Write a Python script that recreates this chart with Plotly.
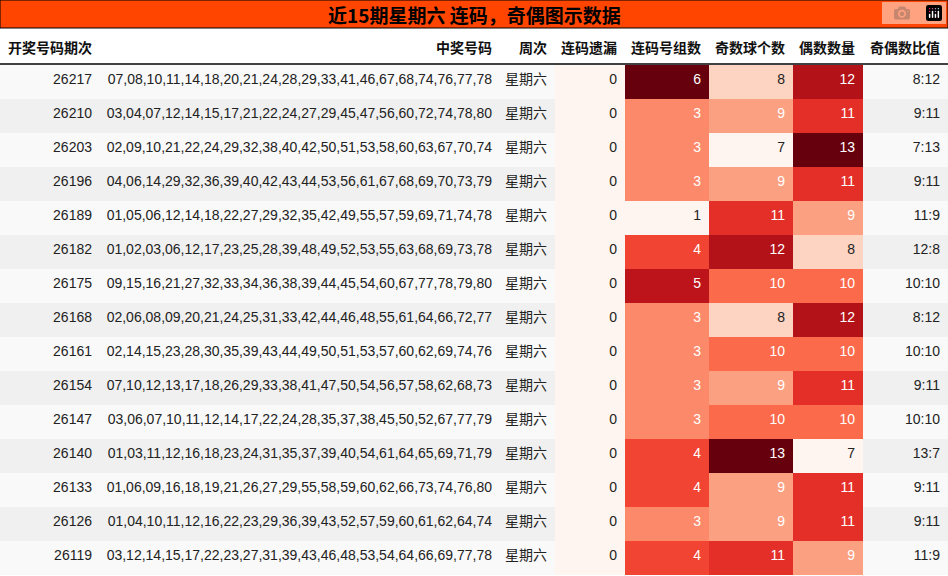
import plotly.graph_objects as go
from plotly.colors import sample_colorscale

periods = [26217,26210,26203,26196,26189,26182,26175,26168,26161,26154,26147,26140,26133,26126,26119]
numbers = [
"07,08,10,11,14,18,20,21,24,28,29,33,41,46,67,68,74,76,77,78",
"03,04,07,12,14,15,17,21,22,24,27,29,45,47,56,60,72,74,78,80",
"02,09,10,21,22,24,29,32,38,40,42,50,51,53,58,60,63,67,70,74",
"04,06,14,29,32,36,39,40,42,43,44,53,56,61,67,68,69,70,73,79",
"01,05,06,12,14,18,22,27,29,32,35,42,49,55,57,59,69,71,74,78",
"01,02,03,06,12,17,23,25,28,39,48,49,52,53,55,63,68,69,73,78",
"09,15,16,21,27,32,33,34,36,38,39,44,45,54,60,67,77,78,79,80",
"02,06,08,09,20,21,24,25,31,33,42,44,46,48,55,61,64,66,72,77",
"02,14,15,23,28,30,35,39,43,44,49,50,51,53,57,60,62,69,74,76",
"07,10,12,13,17,18,26,29,33,38,41,47,50,54,56,57,58,62,68,73",
"03,06,07,10,11,12,14,17,22,24,28,35,37,38,45,50,52,67,77,79",
"01,03,11,12,16,18,23,24,31,35,37,39,40,54,61,64,65,69,71,79",
"01,06,09,16,18,19,21,26,27,29,55,58,59,60,62,66,73,74,76,80",
"01,04,10,11,12,16,22,23,29,36,39,43,52,57,59,60,61,62,64,74",
"03,12,14,15,17,22,23,27,31,39,43,46,48,53,54,64,66,69,77,78",
]
weekday = ["星期六"]*15
miss = [0]*15
groups = [6,3,3,3,1,4,5,3,3,3,3,4,4,3,4]
odd = [8,9,7,9,11,12,10,8,10,9,10,13,9,9,11]
even = [12,11,13,11,9,8,10,12,10,11,10,7,11,11,9]
ratio = [f"{o}:{e}" for o, e in zip(odd, even)]
headers = ["开奖号码期次","中奖号码","周次","连码遗漏","连码号组数","奇数球个数","偶数数量","奇偶数比值"]

def colorize(vals):
    lo, hi = min(vals), max(vals)
    ts = [(v-lo)/(hi-lo) if hi > lo else 0 for v in vals]
    fills = sample_colorscale("Reds", ts)
    fonts = ["white" if t > 0.3 else "#222" for t in ts]
    return fills, fonts

bg = ["#f9f9f9" if i % 2 == 0 else "#f0f0f0" for i in range(15)]
g_f, g_t = colorize(groups)
o_f, o_t = colorize(odd)
e_f, e_t = colorize(even)
m_f = ["#fff5f0"]*15

fig = go.Figure(go.Table(
    columnwidth=[100,400,55,70,84,84,70,85],
    domain=dict(x=[0,1], y=[0, 1-29/576]),
    header=dict(values=[f"<b>{h}</b>" for h in headers],
                fill_color="white", line_width=0, height=36,
                align=["left"]+["right"]*7,
                font=dict(size=14, color="#111", family="Noto Sans CJK SC")),
    cells=dict(values=[periods, numbers, weekday, miss, groups, odd, even, ratio],
               fill_color=[bg, bg, bg, m_f, g_f, o_f, e_f, bg],
               font=dict(size=14, family="Liberation Sans, Noto Sans CJK SC",
                         color=[["#222"]*15]*4 + [g_t, o_t, e_t, ["#222"]*15]),
               line_width=0, height=34, align="right"),
))
fig.add_shape(type="rect", xref="paper", yref="paper", x0=0, x1=1, y0=1-28/576, y1=1,
              fillcolor="#ff4500", line=dict(color="black", width=1))
fig.add_annotation(x=0.5, y=1-14/576, xref="paper", yref="paper", showarrow=False,
                   xanchor="center", yanchor="middle",
                   text="<b>近15期星期六 连码，奇偶图示数据</b>",
                   font=dict(size=19, color="black", family="Noto Sans CJK SC"))
fig.add_shape(type="line", xref="paper", yref="paper", x0=0, x1=1,
              y0=1-64/576, y1=1-64/576, line=dict(color="black", width=1.5))
fig.update_layout(width=948, height=576, margin=dict(l=0, r=0, t=0, b=0),
                  paper_bgcolor="white")
fig.write_html("out.html",
               post_script="document.body.style.margin='0';document.body.style.overflow='hidden';")
